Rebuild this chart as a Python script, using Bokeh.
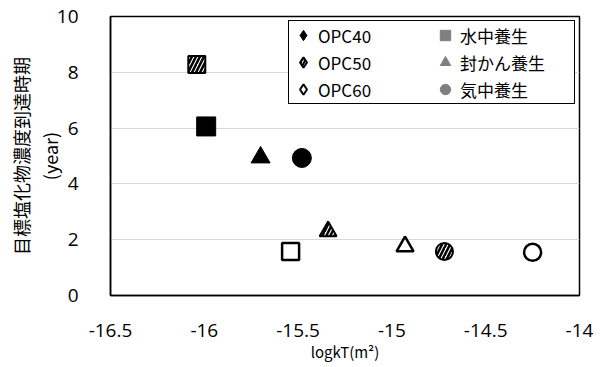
from bokeh.plotting import figure
from bokeh.models import Legend, LegendItem, Range1d, FixedTicker
from bokeh.embed import file_html
from bokeh.resources import INLINE

curing = ["水中養生", "封かん養生", "気中養生"]
markers = ["square", "triangle", "circle"]
series = ["OPC40", "OPC50", "OPC60"]
x_opc40 = [-15.99, -15.70, -15.48]
y_opc40 = [6.06, 4.95, 4.93]
x_opc50 = [-16.04, -15.34, -14.72]
y_opc50 = [8.28, 2.30, 1.58]
x_opc60 = [-15.54, -14.93, -14.25]
y_opc60 = [1.58, 1.76, 1.55]
x_ticks = [-16.5, -16, -15.5, -15, -14.5, -14]
y_ticks = [0, 2, 4, 6, 8, 10]

FONT = "Noto Sans CJK JP"
NUM = "Open Sans"
NAN = float("nan")

p = figure(frame_width=469, frame_height=279, output_backend="svg", toolbar_location=None,
           x_range=Range1d(-16.5, -14), y_range=Range1d(0, 10),
           min_border_left=90, min_border_right=14, min_border_top=16, min_border_bottom=60)
p.margin = (0, 0, 0, 5)
p.outline_line_color = "black"
p.outline_line_width = 1.5
p.outline_line_alpha = 1
p.xgrid.grid_line_color = None
p.ygrid.grid_line_color = "#d9d9d9"
p.ygrid.grid_line_width = 1
p.xaxis.ticker = FixedTicker(ticks=x_ticks)
p.yaxis.ticker = FixedTicker(ticks=y_ticks)
p.xaxis.major_label_overrides = {t: ("%g" % t) for t in x_ticks}
for ax in (p.xaxis, p.yaxis):
    ax.major_tick_line_color = None
    ax.minor_tick_line_color = None
    ax.axis_line_color = "black"
    ax.axis_line_width = 1.5
    ax.major_label_text_font = NUM
    ax.major_label_text_font_size = "19px"
    ax.major_label_text_color = "black"
    ax.axis_label_text_font = FONT
    ax.axis_label_text_font_style = "normal"
    ax.axis_label_text_color = "black"
p.xaxis.major_label_standoff = 22
p.yaxis.major_label_standoff = 26
p.xaxis.axis_label = "logkT(m²)"
p.xaxis.axis_label_text_font_size = "15px"
p.xaxis.axis_label_standoff = 1
p.yaxis.axis_label = "目標塩化物濃度到達時期\n(year)"
p.yaxis.axis_label_text_font_size = "18px"
p.yaxis.axis_label_text_line_height = 1.1
p.yaxis.axis_label_standoff = -9

# OPC40: filled black
for i in range(3):
    p.scatter(x=[x_opc40[i]], y=[y_opc40[i]], marker=markers[i], size=19,
              fill_color="black", line_color="black", line_width=1)
# OPC50: hatched
for i in range(3):
    p.scatter(x=[x_opc50[i]], y=[y_opc50[i]], marker=markers[i], size=17,
              fill_color="white", line_color="black", line_width=2,
              hatch_pattern="/", hatch_color="black", hatch_weight=2.5, hatch_scale=8)
# OPC60: open
for i in range(3):
    p.scatter(x=[x_opc60[i]], y=[y_opc60[i]], marker=markers[i], size=17,
              fill_color="white", line_color="black", line_width=2.5)

# legend entries
r40 = p.scatter(x=[NAN], y=[NAN], marker="diamond", size=13, fill_color="black", line_color="black")
r50 = p.scatter(x=[NAN], y=[NAN], marker="diamond", size=13, fill_color="white", line_color="black",
                line_width=2, hatch_pattern="/", hatch_color="black", hatch_weight=2, hatch_scale=6)
r60 = p.scatter(x=[NAN], y=[NAN], marker="diamond", size=13, fill_color="white", line_color="black", line_width=2)
rsq = p.scatter(x=[NAN], y=[NAN], marker="square", size=12, fill_color="#7f7f7f", line_color="#7f7f7f")
rtr = p.scatter(x=[NAN], y=[NAN], marker="triangle", size=13, fill_color="#7f7f7f", line_color="#7f7f7f")
rci = p.scatter(x=[NAN], y=[NAN], marker="circle", size=13, fill_color="#7f7f7f", line_color="#7f7f7f")

items = [LegendItem(label=series[0], renderers=[r40]),
         LegendItem(label=series[1], renderers=[r50]),
         LegendItem(label=series[2], renderers=[r60]),
         LegendItem(label=curing[0], renderers=[rsq]),
         LegendItem(label=curing[1], renderers=[rtr]),
         LegendItem(label=curing[2], renderers=[rci])]
leg = Legend(items=items, location="top_right", ncols=2)
leg.border_line_color = "black"
leg.border_line_alpha = 1
leg.border_line_width = 1.5
leg.background_fill_alpha = 1
leg.label_text_font = FONT
leg.label_text_font_size = "17px"
leg.label_text_color = "black"
leg.label_standoff = 2
leg.label_width = 113
leg.glyph_width = 26
leg.glyph_height = 26
leg.spacing = 1
leg.padding = 1
leg.margin = 4
p.add_layout(leg)

open("out.html", "w").write(file_html(p, INLINE))
